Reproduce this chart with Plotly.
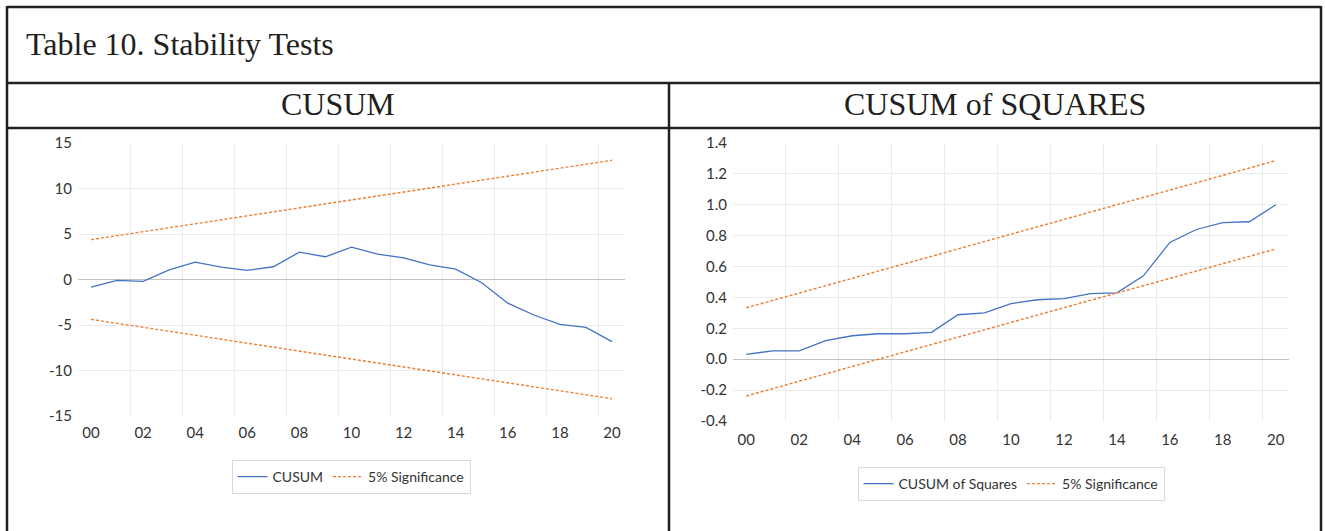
import plotly.graph_objects as go

# ---------------- data ----------------
years = list(range(2000, 2021))
year_labels = ["00", "02", "04", "06", "08", "10", "12", "14", "16", "18", "20"]
year_ticks = [2000, 2002, 2004, 2006, 2008, 2010, 2012, 2014, 2016, 2018, 2020]

cusum = [-0.84, -0.1, -0.2, 1.06, 1.9, 1.35, 1.0, 1.4, 3.0, 2.5, 3.55,
         2.8, 2.37, 1.6, 1.13, -0.36, -2.6, -3.9, -4.93, -5.26, -6.82]
cusum_upper = [4.38, 4.82, 5.25, 5.69, 6.12, 6.56, 7.0, 7.43, 7.87, 8.30, 8.74,
               9.18, 9.61, 10.05, 10.48, 10.92, 11.36, 11.79, 12.23, 12.66, 13.1]
cusum_lower = [-4.38, -4.82, -5.25, -5.69, -6.12, -6.56, -7.0, -7.43, -7.87, -8.30, -8.74,
               -9.18, -9.61, -10.05, -10.48, -10.92, -11.36, -11.79, -12.23, -12.66, -13.1]

cusumsq = [0.032, 0.054, 0.054, 0.12, 0.152, 0.165, 0.165, 0.174, 0.288, 0.30, 0.36,
           0.385, 0.393, 0.425, 0.43, 0.54, 0.756, 0.84, 0.885, 0.89, 1.0]
cusumsq_upper = [0.333, 0.381, 0.429, 0.476, 0.524, 0.571, 0.619, 0.667, 0.714, 0.762, 0.810,
                 0.857, 0.905, 0.952, 1.000, 1.048, 1.095, 1.143, 1.190, 1.238, 1.286]
cusumsq_lower = [-0.238, -0.190, -0.143, -0.095, -0.048, 0.000, 0.048, 0.095, 0.143, 0.190, 0.238,
                 0.286, 0.333, 0.381, 0.429, 0.476, 0.524, 0.571, 0.619, 0.667, 0.714]

left_yticks = [-15, -10, -5, 0, 5, 10, 15]
left_ylabels = ["-15", "-10", "-5", "0", "5", "10", "15"]
right_yticks = [-0.4, -0.2, 0.0, 0.2, 0.4, 0.6, 0.8, 1.0, 1.2, 1.4]
right_ylabels = ["-0.4", "-0.2", "0.0", "0.2", "0.4", "0.6", "0.8", "1.0", "1.2", "1.4"]

title_text = "Table 10. Stability Tests"
left_header = "CUSUM"
right_header = "CUSUM of SQUARES"

# ---------------- figure ----------------
W, H = 1325, 531
BLUE = "#4472c4"
ORANGE = "#ed7d31"
GRID = "#ebebeb"
TXT = "#333333"
BORDER = "#231f20"
DASH = "3px,2px"

def px(x):
    return x / W

def py(y):
    return 1 - y / H

fig = go.Figure()

fig.add_trace(go.Scatter(x=years, y=cusum, mode="lines", name="CUSUM",
                         line=dict(color=BLUE, width=1.3), xaxis="x", yaxis="y",
                         legend="legend"))
fig.add_trace(go.Scatter(x=years, y=cusum_upper, mode="lines", name="5% Significance",
                         line=dict(color=ORANGE, width=1.4, dash=DASH), xaxis="x", yaxis="y",
                         legend="legend"))
fig.add_trace(go.Scatter(x=years, y=cusum_lower, mode="lines", name="5% Significance",
                         line=dict(color=ORANGE, width=1.4, dash=DASH), xaxis="x", yaxis="y",
                         legend="legend", showlegend=False))

fig.add_trace(go.Scatter(x=years, y=cusumsq, mode="lines", name="CUSUM of Squares",
                         line=dict(color=BLUE, width=1.3), xaxis="x2", yaxis="y2",
                         legend="legend2"))
fig.add_trace(go.Scatter(x=years, y=cusumsq_upper, mode="lines", name="5% Significance",
                         line=dict(color=ORANGE, width=1.4, dash=DASH), xaxis="x2", yaxis="y2",
                         legend="legend2"))
fig.add_trace(go.Scatter(x=years, y=cusumsq_lower, mode="lines", name="5% Significance",
                         line=dict(color=ORANGE, width=1.4, dash=DASH), xaxis="x2", yaxis="y2",
                         legend="legend2", showlegend=False))

minor_x = [y + 1.5 for y in year_ticks[:-1]]
tickfont = dict(family="Lato, Carlito, sans-serif", size=15, color=TXT)
legfont = dict(family="Lato, Carlito, sans-serif", size=14, color=TXT)

xcommon = dict(range=[1999.5, 2020.5], tickmode="array", tickvals=year_ticks,
               ticktext=year_labels, showgrid=False, zeroline=False, showline=False,
               ticks="", tickfont=tickfont, fixedrange=True, automargin=False,
               minor=dict(tickmode="array", tickvals=minor_x, showgrid=True,
                          gridcolor=GRID, gridwidth=1, ticks=""))

fig.update_layout(
    width=W, height=H,
    margin=dict(l=0, r=0, t=0, b=0, pad=0, autoexpand=False),
    paper_bgcolor="white", plot_bgcolor="white",
    showlegend=True,
    xaxis=dict(domain=[px(78), px(625)], anchor="y", ticklabelstandoff=6, **xcommon),
    yaxis=dict(domain=[py(416), py(143)], anchor="x", range=[-15, 15],
               tickmode="array", tickvals=left_yticks, ticktext=left_ylabels,
               showgrid=False, zeroline=True, zerolinecolor="#c0c0c0", zerolinewidth=1.2,
               showline=False, ticks="", tickfont=tickfont, ticklabelstandoff=5,
               automargin=False, fixedrange=True,
               minor=dict(tickmode="array", tickvals=left_yticks[1:-1], showgrid=True,
                          gridcolor=GRID, gridwidth=1, ticks="")),
    xaxis2=dict(domain=[px(733), px(1289)], anchor="y2", ticklabelstandoff=8, **xcommon),
    yaxis2=dict(domain=[py(421), py(143)], anchor="x2", range=[-0.4, 1.4],
                tickmode="array", tickvals=right_yticks, ticktext=right_ylabels,
                showgrid=False, zeroline=True, zerolinecolor="#c0c0c0", zerolinewidth=1.2,
                showline=False, ticks="", tickfont=tickfont, ticklabelstandoff=5,
                automargin=False, fixedrange=True,
                minor=dict(tickmode="array", tickvals=right_yticks[1:-1], showgrid=True,
                           gridcolor=GRID, gridwidth=1, ticks="")),
    legend=dict(orientation="h", x=px(351), y=py(460), xanchor="center", yanchor="top",
                bordercolor="#d9d9d9", borderwidth=1, bgcolor="white",
                font=legfont, itemwidth=30),
    legend2=dict(orientation="h", x=px(1011), y=py(467), xanchor="center", yanchor="top",
                 bordercolor="#d9d9d9", borderwidth=1, bgcolor="white",
                 font=legfont, itemwidth=30),
)

# table borders
lw = 2.5
shapes = [
    dict(type="line", xref="paper", yref="paper", x0=px(7), x1=px(1321), y0=py(7), y1=py(7)),
    dict(type="line", xref="paper", yref="paper", x0=px(7), x1=px(1321), y0=py(83), y1=py(83)),
    dict(type="line", xref="paper", yref="paper", x0=px(7), x1=px(1321), y0=py(128), y1=py(128)),
    dict(type="line", xref="paper", yref="paper", x0=px(7), x1=px(7), y0=py(6), y1=py(540)),
    dict(type="line", xref="paper", yref="paper", x0=px(1321), x1=px(1321), y0=py(6), y1=py(540)),
    dict(type="line", xref="paper", yref="paper", x0=px(669), x1=px(669), y0=py(83), y1=py(540)),
]
for s in shapes:
    s["line"] = dict(color=BORDER, width=lw)
    s["layer"] = "above"
fig.update_layout(shapes=shapes)

serif = dict(family="Liberation Serif, Times New Roman, serif", size=32, color="#231f20")
fig.add_annotation(text=title_text, xref="paper", yref="paper", x=px(24), y=py(44),
                   xanchor="left", yanchor="middle", showarrow=False, font=serif)
fig.add_annotation(text=left_header, xref="paper", yref="paper", x=px(338), y=py(104),
                   xanchor="center", yanchor="middle", showarrow=False, font=serif)
fig.add_annotation(text=right_header, xref="paper", yref="paper", x=px(995), y=py(104),
                   xanchor="center", yanchor="middle", showarrow=False, font=serif)

fig.write_html("out.html", config={"displayModeBar": False},
               post_script="document.body.style.margin='0';document.body.style.overflow='hidden';")
